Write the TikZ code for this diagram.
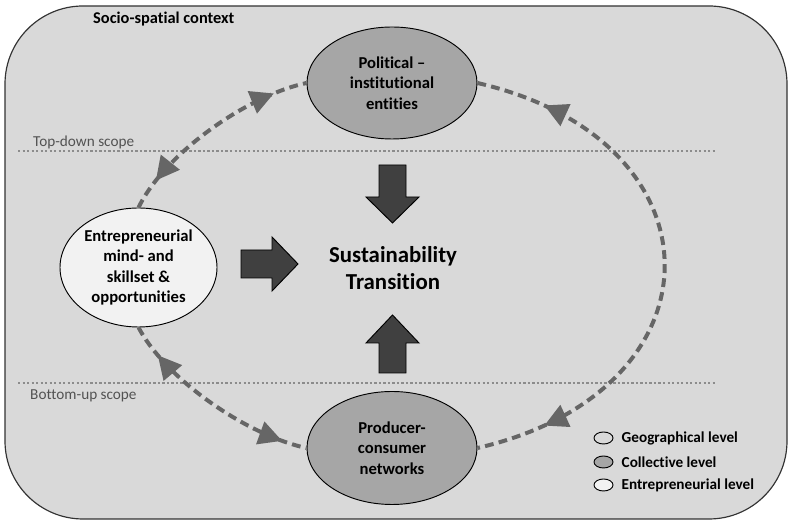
\documentclass[tikz,border=0pt]{standalone}
\usepackage{fontspec}
\setmainfont{Carlito}[Ligatures=NoCommon]
\usetikzlibrary{shapes.geometric,arrows.meta,decorations.markings,positioning}

\definecolor{ctxgray}{gray}{0.85}
\definecolor{colgray}{gray}{0.65}
\definecolor{entgray}{gray}{0.95}
\definecolor{arrgray}{gray}{0.25}
\definecolor{linkgray}{gray}{0.4}
\definecolor{dotgray}{gray}{0.55}
\definecolor{labgray}{gray}{0.32}

\tikzset{
  ctxbox/.style={draw=black!80, line width=1pt, fill=ctxgray, rounded corners=23.4mm},
  lvlnode/.style={ellipse, draw, line width=0.8pt, align=center, inner sep=0pt,
    font=\bfseries\fontsize{14.2}{17.3}\selectfont},
  scopeline/.style={draw=dotgray, line width=2pt, dash pattern=on 2pt off 1.85pt},
  scopelabel/.style={anchor=west, inner sep=0pt, text=labgray, font=\fontsize{13}{15}\selectfont},
  bigarrow/.style={draw=black, line width=0.8pt, fill=arrgray, line join=miter},
  flowlink/.style 2 args={draw=linkgray, line width=3.4pt, dash pattern=on 7.5pt off 4.5pt,
    decoration={markings,
      mark=at position #1 with {\arrowreversed{Triangle[length=7mm,width=7mm]}},
      mark=at position #2 with {\arrow{Triangle[length=7mm,width=7mm]}}},
    postaction={decorate}},
  legdot/.style={ellipse, draw, line width=0.8pt, inner sep=0pt, minimum width=5.7mm, minimum height=3.6mm},
  legtext/.style={anchor=west, inner sep=0pt, font=\bfseries\fontsize{13}{15}\selectfont}
}

\begin{document}
\begin{tikzpicture}[x=0.3mm,y=0.3mm]
\useasboundingbox (0,0) rectangle (790,522);
\draw[ctxbox] (5,3) rectangle (787,516);
\node[anchor=west, inner sep=0pt, font=\bfseries\fontsize{14}{17}\selectfont] (ctx) at (93,503) {Socio-spatial context};

% scopes
\draw[scopeline] (18,371) -- (715,371);
\draw[scopeline] (18,139) -- (715,139);
\node[scopelabel] (topdown) at (33,380) {Top-down scope};
\node[scopelabel] (bottomup) at (30,126) {Bottom-up scope};

% levels
\node[lvlnode, fill=colgray, minimum width=51mm, minimum height=33.6mm] (pol) at (392,439) {Political --\\institutional\\entities};
\node[lvlnode, fill=entgray, minimum width=47.1mm, minimum height=35.7mm] (ent) at (138.5,254.5) {Entrepreneurial\\mind- and\\skillset \&\\opportunities};
\node[lvlnode, fill=colgray, minimum width=51mm, minimum height=33.9mm] (prod) at (392,74) {Producer-\\consumer\\networks};

\node[align=center, inner sep=0pt, font=\bfseries\fontsize{19.5}{23}\selectfont] (st) at (393,254) {Sustainability\\Transition};

\draw[bigarrow] (241,244) -- (272,244) -- (272,231) -- (298,258) -- (272,285) -- (272,272) -- (241,272) -- cycle;
\draw[bigarrow] (379,357) -- (379,325) -- (366,325) -- (392.5,299) -- (419,325) -- (406,325) -- (406,357) -- cycle;
\draw[bigarrow] (379,149) -- (379,179) -- (366,179) -- (392.5,207) -- (419,179) -- (406,179) -- (406,149) -- cycle;

% links
\draw[flowlink={0.15}{0.84}] (ent.north) to[out=64, in=192, looseness=0.74] (pol.west);
\draw[flowlink={0.125}{0.875}] (pol.east) to[out=-13, in=13, looseness=1.8] (prod.east);
\draw[flowlink={0.16}{0.88}] (ent.south) to[out=-62, in=168, looseness=0.74] (prod.west);

% legend
\node[legdot, fill=ctxgray] (lgeo) at (603.5,84) {};
\node[legdot, fill=colgray] (lcol) at (603.5,60) {};
\node[legdot, fill=entgray] (lent) at (603.5,37) {};
\node[legtext, right=2.4mm of lgeo] (tgeo) {Geographical level};
\node[legtext, right=2.4mm of lcol] (tcol) {Collective level};
\node[legtext, right=2.4mm of lent] (tent) {Entrepreneurial level};
\end{tikzpicture}
\end{document}
